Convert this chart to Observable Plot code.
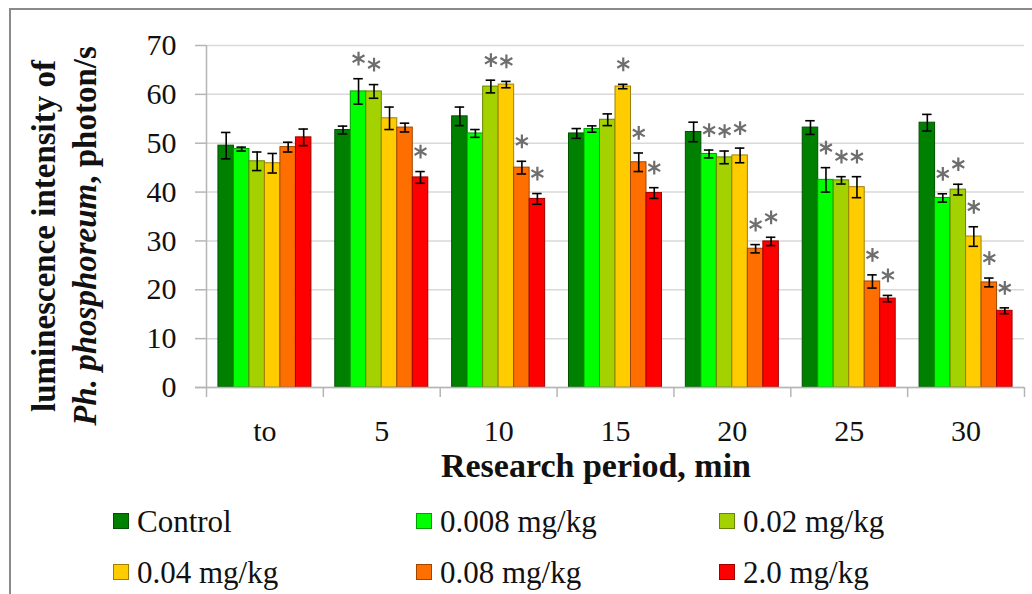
<!DOCTYPE html>
<html>
<head>
<meta charset="utf-8">
<script src="https://cdn.jsdelivr.net/npm/d3@7"></script>
<script src="https://cdn.jsdelivr.net/npm/@observablehq/plot@0.6"></script>
<style>
  html, body { margin: 0; padding: 0; background: #fff; }
  #wrap { position: relative; width: 1032px; height: 594px; overflow: hidden; font-family: "Liberation Serif", "Times New Roman", serif; color: #111; }
  #frame { position: absolute; left: 9px; top: 8px; right: -5px; bottom: -5px; border-top: 2px solid #8a8a8a; border-left: 2px solid #8a8a8a; }
  #chart { position: absolute; left: 0; top: 0; }
  #ytitle { position: absolute; width: 480px; left: -175px; top: 195px; height: 82px; line-height: 41px; text-align: center; font-weight: bold; font-size: 33px; transform: rotate(-90deg); transform-origin: 50% 50%; white-space: nowrap; }
  #xtitle { position: absolute; left: 596px; top: 449px; transform: translateX(-50%); font-weight: bold; font-size: 34px; line-height: 34px; white-space: nowrap; }
  .lg { position: absolute; font-size: 31px; line-height: 31px; white-space: nowrap; }
  .sw { position: absolute; width: 14px; height: 14px; border: 1px solid; }
</style>
</head>
<body>
<div id="wrap">
  <div id="frame"></div>
  <div id="chart"></div>
  <div id="ytitle">luminescence intensity of<br><i>Ph. phosphoreum</i>, photon/s</div>
  <div id="xtitle">Research period, min</div>
  <div id="legend"></div>
</div>
<script>
// ---- data ----
const periods = ["to", "5", "10", "15", "20", "25", "30"];
const series = ["Control", "0.008 mg/kg", "0.02 mg/kg", "0.04 mg/kg", "0.08 mg/kg", "2.0 mg/kg"];
const colors = ["#008000", "#00ff00", "#a3d200", "#ffcc00", "#ff6f00", "#ff0000"];
const yTicks = [0, 10, 20, 30, 40, 50, 60, 70];

const valControl = [49.5, 52.7, 55.5, 52.0, 52.3, 53.2, 54.2];
const val008     = [48.8, 60.6, 52.0, 52.9, 47.8, 42.5, 38.8];
const val02      = [46.3, 60.6, 61.6, 54.8, 47.1, 42.4, 40.5];
const val04      = [45.9, 55.1, 62.0, 61.6, 47.5, 41.0, 30.9];
const val08      = [49.2, 53.2, 45.0, 46.1, 28.4, 21.7, 21.5];
const val20      = [51.2, 43.0, 38.6, 39.8, 29.9, 18.2, 15.7];

const errControl = [2.7, 0.8, 1.9, 1.0, 2.0, 1.4, 1.7];
const err008     = [0.4, 2.6, 0.8, 0.65, 0.8, 2.5, 0.85];
const err02      = [1.9, 1.4, 1.3, 1.2, 1.3, 0.75, 1.1];
const err04      = [2.0, 2.3, 0.65, 0.45, 1.5, 2.15, 2.0];
const err08      = [1.0, 0.9, 1.3, 1.9, 0.85, 1.35, 0.9];
const err20      = [1.7, 1.2, 1.1, 1.1, 0.85, 0.65, 0.6];

const starControl = [0, 0, 0, 0, 0, 0, 0];
const star008     = [0, 1, 0, 0, 1, 1, 1];
const star02      = [0, 1, 1, 0, 1, 1, 1];
const star04      = [0, 0, 1, 1, 1, 1, 1];
const star08      = [0, 0, 1, 1, 1, 1, 1];
const star20      = [0, 1, 1, 1, 1, 1, 1];

// ---- build table ----
const values = [valControl, val008, val02, val04, val08, val20];
const errors = [errControl, err008, err02, err04, err08, err20];
const stars = [starControl, star008, star02, star04, star08, star20];

const pad = 0.77;                       // outer gap in bar widths
const groupStep = series.length + 2 * pad;
const rows = [];
periods.forEach((p, g) => {
  series.forEach((s, k) => {
    const x1 = g * groupStep + pad + k;
    rows.push({period: p, series: s, k, x1, x2: x1 + 1, xc: x1 + 0.5,
      value: values[k][g], lo: values[k][g] - errors[k][g], hi: values[k][g] + errors[k][g],
      star: stars[k][g] === 1});
  });
});
const boundaries = d3.range(periods.length + 1).map(g => g * groupStep);
const centers = periods.map((p, g) => g * groupStep + groupStep / 2);
const strokeOf = k => d3.color(colors[k]).darker(1.3).formatHex();

const plot = Plot.plot({
  width: 1032,
  height: 455,
  marginLeft: 206,
  marginRight: 8,
  marginTop: 45,
  marginBottom: 68,
  style: {fontFamily: '"Liberation Serif", "Times New Roman", serif', background: "transparent", color: "#111"},
  x: {domain: [0, periods.length * groupStep], axis: null},
  y: {domain: [0, 70], axis: null},
  marks: [
    Plot.gridY(yTicks, {stroke: "#d9d9d9", strokeOpacity: 1, strokeWidth: 1.5}),
    Plot.ruleX([0], {stroke: "#b5b5b5", strokeWidth: 1.5}),
    Plot.ruleX(boundaries, {y1: 0, y2: 0, insetBottom: -10, stroke: "#b5b5b5", strokeWidth: 1.5}),
    Plot.axisY(yTicks, {tickSize: 11, tickPadding: 19, fontSize: 30, stroke: "#b5b5b5", strokeWidth: 1.5, label: null, tickFormat: d => d}),
    Plot.rect(rows, {x1: "x1", x2: "x2", y1: 0, y2: "value", fill: d => colors[d.k], stroke: d => strokeOf(d.k), strokeWidth: 1}),
    Plot.ruleY([0], {insetLeft: -11, stroke: "#b5b5b5", strokeWidth: 1.5}),
    Plot.ruleX(rows, {x: "xc", y1: "lo", y2: "hi", stroke: "#000", strokeWidth: 1.6}),
    Plot.ruleY(rows, {x1: "x1", x2: "x2", y: "hi", insetLeft: 3, insetRight: 3, stroke: "#000", strokeWidth: 1.6}),
    Plot.ruleY(rows, {x1: "x1", x2: "x2", y: "lo", insetLeft: 3, insetRight: 3, stroke: "#000", strokeWidth: 1.6}),
    Plot.dot(rows.filter(d => d.star), {x: "xc", y: "hi", dy: -20, symbol: "asterisk", r: 6.5, stroke: "#6e6e6e", strokeWidth: 2.2}),
    Plot.axisX(centers, {tickSize: 0, tickPadding: 32, fontSize: 30, label: null,
      tickFormat: d => periods[Math.round((d - groupStep / 2) / groupStep)]})
  ]
});
document.getElementById("chart").appendChild(plot);

// ---- legend ----
const legend = document.getElementById("legend");
series.forEach((s, i) => {
  const col = i % 3, row = Math.floor(i / 3);
  const left = 113 + col * 303;
  const top = 513 + row * 50.5;
  const sw = document.createElement("div");
  sw.className = "sw";
  sw.style.left = left + "px";
  sw.style.top = top + "px";
  sw.style.background = colors[i];
  sw.style.borderColor = strokeOf(i);
  legend.appendChild(sw);
  const t = document.createElement("div");
  t.className = "lg";
  t.style.left = (left + 24) + "px";
  t.style.top = (top - 7) + "px";
  t.textContent = s;
  legend.appendChild(t);
});
</script>
</body>
</html>
